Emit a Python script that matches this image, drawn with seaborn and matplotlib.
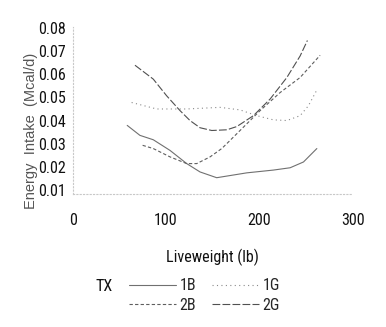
import matplotlib
matplotlib.use("Agg")
import matplotlib.pyplot as plt
import seaborn as sns
import pandas as pd

sns.set_style("white")
plt.rcParams['font.family'] = ["Roboto Condensed", "Archivo Narrow", "DejaVu Sans"]

# data
w_1B = [58.5, 72.1, 86.4, 104.3, 122.2, 136.4, 154.3, 186.5, 215.0, 232.9, 247.2, 261.5]
e_1B = [0.0379, 0.0336, 0.0317, 0.0271, 0.0214, 0.0178, 0.0153, 0.0174, 0.0186, 0.0196, 0.0221, 0.0279]
w_1G = [63.2, 90.0, 122.2, 157.9, 179.3, 197.2, 215.0, 229.4, 243.6, 252.5, 261.5]
e_1G = [0.0478, 0.0450, 0.0450, 0.0457, 0.0446, 0.0421, 0.0403, 0.0400, 0.0421, 0.0464, 0.0532]
w_2B = [75.0, 86.4, 104.3, 122.2, 132.9, 147.2, 159.7, 166.8, 179.3, 200.8, 222.2, 243.6, 265.0]
e_2B = [0.0293, 0.0279, 0.0243, 0.0214, 0.0214, 0.0243, 0.0279, 0.0307, 0.0357, 0.0443, 0.0521, 0.0586, 0.0682]
w_2G = [66.8, 86.4, 100.7, 115.0, 125.7, 136.4, 149.0, 165.1, 175.8, 193.6, 211.5, 229.4, 243.6, 251.4]
e_2G = [0.0639, 0.0579, 0.0507, 0.0443, 0.0400, 0.0369, 0.0357, 0.0360, 0.0374, 0.0421, 0.0493, 0.0586, 0.0679, 0.0746]
groups = ["1B", "2B", "1G", "2G"]
y_ticks = [0.01, 0.02, 0.03, 0.04, 0.05, 0.06, 0.07, 0.08]
x_ticks = [0, 100, 200, 300]

frames = []
for g, w, e in [("1B", w_1B, e_1B), ("1G", w_1G, e_1G), ("2B", w_2B, e_2B), ("2G", w_2G, e_2G)]:
    frames.append(pd.DataFrame({"Liveweight": w, "Energy": e, "TX": g}))
df = pd.concat(frames, ignore_index=True)

fig = plt.figure(figsize=(3.86, 3.27), dpi=100)
ax = fig.add_axes([0.188, 0.407, 0.726, 0.511])

dashes = {"1B": "", "1G": (1, 3), "2B": (3, 2), "2G": (7, 2)}
palette = {"1B": "#707070", "1G": "#8a8a8a", "2B": "#5e5e5e", "2G": "#505050"}
sns.lineplot(data=df, x="Liveweight", y="Energy", hue="TX", style="TX",
             hue_order=groups, style_order=groups, dashes=dashes, palette=palette,
             sort=False, estimator=None, linewidth=0.8, ax=ax, legend=True)
handles, labels = ax.get_legend_handles_labels()
hmap = dict(zip(labels, handles))
ax.get_legend().remove()

ax.set_xlim(0, 300)
ax.set_ylim(0.0083, 0.0805)
ax.set_xticks(x_ticks)
ax.set_xticklabels([str(t) for t in x_ticks])
ax.set_yticks(y_ticks)
ax.set_yticklabels([f"{t:.2f}" for t in y_ticks])
ax.tick_params(axis='x', length=0, pad=14, labelsize=11.5, colors="#111111")
ax.tick_params(axis='y', length=0, pad=5, labelsize=11.5, colors="#111111")
for s in ["top", "right"]:
    ax.spines[s].set_visible(False)
for s in ["left", "bottom"]:
    ax.spines[s].set_linestyle((0, (1, 2)))
    ax.spines[s].set_color("#c8c8c8")
    ax.spines[s].set_linewidth(0.8)

ax.set_xlabel("Liveweight (lb)", fontsize=11.5, color="#111111")
ax.xaxis.set_label_coords(0.5, -0.33)
ax.set_ylabel("Energy  Intake  (Mcal/d)", fontsize=10.5, color="#555555",
              family=["Liberation Sans", "DejaVu Sans"])
ax.yaxis.set_label_coords(-0.125, 0.38)

leg = fig.legend([hmap[g] for g in groups], groups, ncol=2, frameon=False,
                 loc="center left", bbox_to_anchor=(0.298, 0.096),
                 handlelength=2.9, handletextpad=0.25, columnspacing=1.0,
                 labelspacing=0.3, fontsize=11.5)
fig.text(0.247, 0.125, "TX", fontsize=11.5, color="#111111", va="center")

fig.savefig("out.png", dpi=100)
